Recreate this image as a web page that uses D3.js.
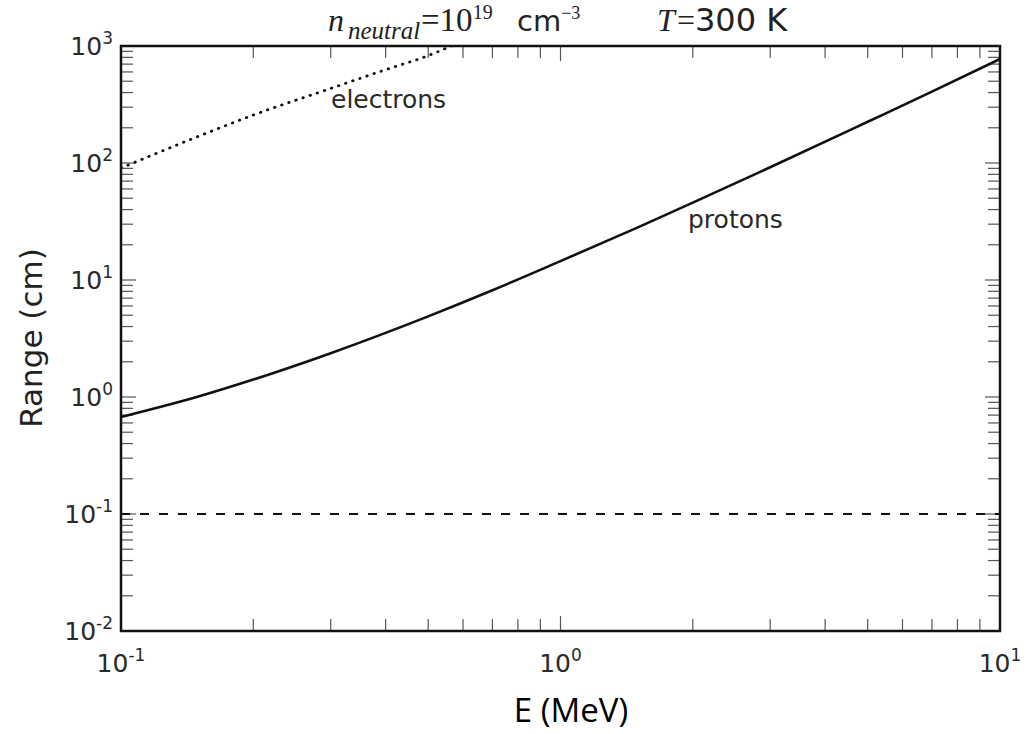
<!DOCTYPE html>
<html>
<head>
<meta charset="utf-8">
<script src="https://cdn.jsdelivr.net/npm/d3@7/dist/d3.min.js"></script>
<style>
  html, body { margin: 0; padding: 0; background: #fff; }
  svg { display: block; }
</style>
</head>
<body>
<svg id="chart" width="1027" height="734"></svg>
<script>
// Proton range vs. energy (MeV -> cm)
const protonE = [0.1, 0.15, 0.2, 0.3, 0.5, 0.7, 1, 1.5, 2, 3, 5, 7, 10];
const protonR = [0.675, 1.01, 1.41, 2.37, 4.89, 8.17, 14.5, 28.2, 45.8, 92.0, 225, 407, 774];

// Electron range vs. energy (runs off the top of the frame)
const electronE = [0.1, 0.15, 0.2, 0.3, 0.4, 0.5, 0.58];
const electronR = [90.6, 169, 257, 434, 627, 828, 1047];

// Reference range level
const refE = [0.1, 10];
const refR = [0.1, 0.1];

// Axis decades
const xDecades = [-1, 0, 1];
const yDecades = [-2, -1, 0, 1, 2, 3];

const svg = d3.select("#chart");
const m = { left: 121, right: 1000, top: 46, bottom: 631 };

const x = d3.scaleLog().domain([0.1, 10]).range([m.left, m.right]);
const y = d3.scaleLog().domain([0.01, 1000]).range([m.bottom, m.top]);

const majorX = xDecades.map(p => Math.pow(10, p));
const majorY = yDecades.map(p => Math.pow(10, p));
const minorX = majorX.slice(0, -1).flatMap(b => d3.range(2, 10).map(k => b * k));
const minorY = majorY.slice(0, -1).flatMap(b => d3.range(2, 10).map(k => b * k));

svg.append("defs").append("clipPath").attr("id", "plotClip")
  .append("rect")
  .attr("x", m.left).attr("y", m.top)
  .attr("width", m.right - m.left).attr("height", m.bottom - m.top);

// Inward ticks on all four sides
const tickCol = "#555";
const ticks = svg.append("g").attr("stroke", tickCol).attr("stroke-width", 1.2);
function xTicks(vals, len) {
  ticks.selectAll(null).data(vals).join("line")
    .attr("x1", d => x(d)).attr("x2", d => x(d))
    .attr("y1", m.bottom).attr("y2", m.bottom - len);
  ticks.selectAll(null).data(vals).join("line")
    .attr("x1", d => x(d)).attr("x2", d => x(d))
    .attr("y1", m.top).attr("y2", m.top + len);
}
function yTicks(vals, len) {
  ticks.selectAll(null).data(vals).join("line")
    .attr("y1", d => y(d)).attr("y2", d => y(d))
    .attr("x1", m.left).attr("x2", m.left + len);
  ticks.selectAll(null).data(vals).join("line")
    .attr("y1", d => y(d)).attr("y2", d => y(d))
    .attr("x1", m.right).attr("x2", m.right - len);
}
xTicks(minorX, 12); xTicks(majorX, 15);
yTicks(minorY, 12); yTicks(majorY, 15);

// Data lines
const plot = svg.append("g").attr("clip-path", "url(#plotClip)");
const line = d3.line().x(d => x(d[0])).y(d => y(d[1])).curve(d3.curveMonotoneX);

plot.append("path")
  .attr("d", line(refE.map((e, i) => [e, refR[i]])))
  .attr("fill", "none").attr("stroke", "#111").attr("stroke-width", 2)
  .attr("stroke-dasharray", "9,10");

plot.append("path")
  .attr("d", line(protonE.map((e, i) => [e, protonR[i]])))
  .attr("fill", "none").attr("stroke", "#111").attr("stroke-width", 2.6);

plot.append("path")
  .attr("d", line(electronE.map((e, i) => [e, electronR[i]])))
  .attr("fill", "none").attr("stroke", "#111").attr("stroke-width", 2.8)
  .attr("stroke-linecap", "round")
  .attr("stroke-dasharray", "0.5,7");

// Frame
svg.append("rect")
  .attr("x", m.left).attr("y", m.top)
  .attr("width", m.right - m.left).attr("height", m.bottom - m.top)
  .attr("fill", "none").attr("stroke", "#111").attr("stroke-width", 2.5);

// Tick labels written as powers of ten
const labCol = "#2a2a2a";
const font = "'DejaVu Sans', sans-serif";
function powLabel(sel, p) {
  sel.append("tspan").text("10");
  sel.append("tspan").attr("font-size", 17).attr("dy", -11)
    .text(p < 0 ? "-" + Math.abs(p) : String(p));
}
svg.append("g").selectAll("text").data(xDecades).join("text")
  .attr("x", d => x(Math.pow(10, d)))
  .attr("y", 672)
  .attr("text-anchor", "middle")
  .attr("font-family", font).attr("font-size", 25).attr("fill", labCol)
  .each(function(d) { powLabel(d3.select(this), d); });

svg.append("g").selectAll("text").data(yDecades).join("text")
  .attr("x", 113)
  .attr("y", d => y(Math.pow(10, d)) + 9)
  .attr("text-anchor", "end")
  .attr("font-family", font).attr("font-size", 25).attr("fill", labCol)
  .each(function(d) { powLabel(d3.select(this), d); });

// Axis titles
svg.append("text")
  .attr("transform", "translate(42,338) rotate(-90)")
  .attr("text-anchor", "middle")
  .attr("font-family", font).attr("font-size", 31).attr("fill", "#222")
  .text("Range (cm)");

svg.append("text")
  .attr("x", 571).attr("y", 722)
  .attr("text-anchor", "middle")
  .attr("font-family", "'Open Sans', sans-serif").attr("font-size", 33).attr("fill", "#000")
  .text("E (MeV)");

// Curve labels
svg.append("text").attr("x", 331).attr("y", 108)
  .attr("font-family", font).attr("font-size", 25).attr("fill", labCol)
  .text("electrons");
svg.append("text").attr("x", 688).attr("y", 228)
  .attr("font-family", font).attr("font-size", 25).attr("fill", labCol)
  .text("protons");

// Title: gas conditions
const serif = "'Liberation Serif', 'DejaVu Serif', serif";
const title = svg.append("text").attr("y", 31)
  .attr("font-family", font).attr("font-size", 29).attr("fill", "#222");
title.append("tspan").attr("x", 328).attr("font-family", serif).attr("font-style", "italic")
  .attr("font-size", 32).text("n");
title.append("tspan").attr("x", 348).attr("font-family", serif).attr("font-style", "italic")
  .attr("font-size", 25).attr("dy", 8).text("neutral");
title.append("tspan").attr("x", 421).attr("font-family", serif)
  .attr("font-size", 33).attr("dy", -8).text("=10");
title.append("tspan").attr("font-family", serif)
  .attr("font-size", 20).attr("dy", -12).text("19");
title.append("tspan").attr("x", 517).attr("dy", 12).text("cm");
title.append("tspan").attr("font-family", serif)
  .attr("font-size", 18).attr("dy", -12).text("\u22123");
title.append("tspan").attr("x", 657).attr("dy", 12)
  .attr("font-family", serif).attr("font-style", "italic").attr("font-size", 32).text("T");
title.append("tspan").attr("x", 677).attr("font-family", serif).attr("font-size", 32).text("=");
title.append("tspan").attr("x", 695).attr("font-size", 32).text("300 K");
</script>
</body>
</html>
